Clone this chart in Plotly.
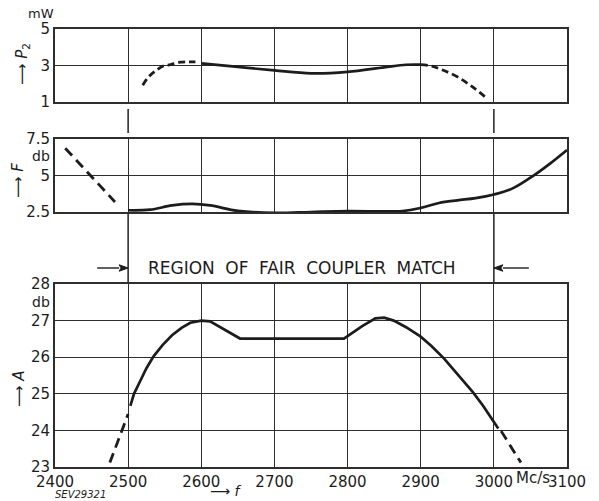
import plotly.graph_objects as go

# ---------------- data ----------------
freq_ticks = [2400, 2500, 2600, 2700, 2800, 2900, 3000, 3100]
freq_tick_labels = ["2400", "2500", "2600", "2700", "2800", "2900", "3000", "3100"]

# P2 (mW)
p2_f_dash_left = [2520, 2527, 2536, 2548, 2558, 2571, 2592]
p2_dash_left = [1.92, 2.33, 2.66, 2.97, 3.05, 3.18, 3.2]
p2_f_solid = [2600, 2650, 2700, 2750, 2800, 2850, 2880, 2900]
p2_solid = [3.12, 2.92, 2.73, 2.57, 2.65, 2.9, 3.04, 3.05]
p2_f_dash_right = [2900, 2915, 2930, 2950, 2970, 2990]
p2_dash_right = [3.05, 2.97, 2.75, 2.38, 1.85, 1.22]
p2_ticks = [1, 3, 5]

# F (db)
f_f_dash = [2414, 2482]
f_dash = [6.87, 3.19]
f_f_solid = [2500, 2530, 2560, 2588, 2612, 2650, 2700, 2750, 2800, 2875, 2900, 2925,
             2950, 2975, 3000, 3025, 3050, 3075, 3100]
f_solid = [2.62, 2.66, 2.95, 3.05, 2.95, 2.58, 2.44, 2.5, 2.56, 2.57, 2.78, 3.12,
           3.3, 3.45, 3.7, 4.1, 4.85, 5.75, 6.75]
f_ticks = [2.5, 5, 7.5]

# A (db)
a_f_dash_left = [2475, 2500]
a_dash_left = [23.12, 24.45]
a_f_solid = [2503, 2508, 2516, 2525, 2535, 2547, 2560, 2573, 2585, 2600, 2612, 2653,
             2795, 2820, 2838, 2850, 2863, 2880, 2900, 2915, 2932, 2950, 2971, 2985,
             3000, 3006]
a_solid = [24.67, 25.0, 25.33, 25.7, 26.03, 26.33, 26.6, 26.8, 26.94, 27.0, 26.98, 26.51,
           26.51, 26.85, 27.06, 27.08, 27.0, 26.82, 26.56, 26.3, 25.96, 25.55, 25.05, 24.68,
           24.25, 24.05]
a_f_dash_right = [3010, 3037]
a_dash_right = [23.98, 23.12]
a_ticks = [23, 24, 25, 26, 27, 28]

# ---------------- style ----------------
W, H = 599, 501
INK = "#1c1c1c"
GRID = "#2e2e2e"
FONT = "DejaVu Sans"


def px_y(p):
    return 1 - p / H


def px_x(p):
    return p / W


fig = go.Figure()

solid = dict(color=INK, width=2.7)
dash_short = dict(color=INK, width=2.8, dash="7px,4px")
dash_long = dict(color=INK, width=2.8, dash="10px,6px")

# top panel (x3,y3)
fig.add_trace(go.Scatter(x=p2_f_dash_left, y=p2_dash_left, mode="lines", line=dict(**dash_short, shape="spline"),
                         xaxis="x3", yaxis="y3"))
fig.add_trace(go.Scatter(x=p2_f_solid, y=p2_solid, mode="lines", line=dict(**solid, shape="spline"),
                         xaxis="x3", yaxis="y3"))
fig.add_trace(go.Scatter(x=p2_f_dash_right, y=p2_dash_right, mode="lines", line=dict(**dash_short, shape="spline"),
                         xaxis="x3", yaxis="y3"))
# middle panel (x2,y2)
fig.add_trace(go.Scatter(x=f_f_dash, y=f_dash, mode="lines", line=dash_long, xaxis="x2", yaxis="y2"))
fig.add_trace(go.Scatter(x=f_f_solid, y=f_solid, mode="lines", line=dict(**solid, shape="spline"),
                         xaxis="x2", yaxis="y2"))
# bottom panel (x,y)
fig.add_trace(go.Scatter(x=a_f_dash_left, y=a_dash_left, mode="lines", line=dash_long, xaxis="x", yaxis="y"))
fig.add_trace(go.Scatter(x=a_f_solid, y=a_solid, mode="lines", line=solid, xaxis="x", yaxis="y"))
fig.add_trace(go.Scatter(x=a_f_dash_right, y=a_dash_right, mode="lines", line=dash_long, xaxis="x", yaxis="y"))

xdom = [px_x(55), px_x(567)]
common_x = dict(range=[2400, 3100], domain=xdom, tickvals=freq_ticks, ticktext=freq_tick_labels,
                showgrid=True, gridcolor=GRID, gridwidth=1.4, showline=True, linecolor=GRID,
                linewidth=2, mirror=True, zeroline=False, ticks="", fixedrange=True, automargin=False)
common_y = dict(showgrid=True, gridcolor=GRID, gridwidth=1.4, showline=True, linecolor=GRID,
                linewidth=2, mirror=True, zeroline=False, ticks="", fixedrange=True, automargin=False)

fig.update_layout(
    template="none",
    width=W, height=H, autosize=False,
    margin=dict(l=0, r=0, t=0, b=0, pad=0),
    paper_bgcolor="white", plot_bgcolor="white",
    showlegend=False,
    font=dict(family=FONT, size=15, color=INK),
    xaxis=dict(**common_x, anchor="y", showticklabels=True),
    xaxis2=dict(**common_x, anchor="y2", showticklabels=False),
    xaxis3=dict(**common_x, anchor="y3", showticklabels=False),
    yaxis=dict(**common_y, range=[23, 28], tickvals=a_ticks, domain=[px_y(467), px_y(284)], anchor="x"),
    yaxis2=dict(**common_y, range=[2.5, 7.5], tickvals=f_ticks, ticktext=["2.5", "5", "7.5"],
                domain=[px_y(212), px_y(139)], anchor="x2"),
    yaxis3=dict(**common_y, range=[1, 5], tickvals=p2_ticks, domain=[px_y(102), px_y(29)], anchor="x3"),
)

# extension lines of the 2500 and 3000 grid lines
for fx in (2500, 3000):
    fig.add_shape(type="line", xref="x", yref="paper", x0=fx, x1=fx, y0=px_y(133), y1=px_y(109),
                  line=dict(color=GRID, width=1.6))
    fig.add_shape(type="line", xref="x", yref="paper", x0=fx, x1=fx, y0=px_y(284), y1=px_y(212),
                  line=dict(color=GRID, width=1.6))

# region arrows (shaft + head)
MHZ_PER_PX = 700 / 512
ay_px = 268
for head, tail_px in ((2500, -31), (3000, 35)):
    tail = head + tail_px * MHZ_PER_PX
    sgn = 1 if tail_px < 0 else -1
    back = head - sgn * 9 * MHZ_PER_PX
    fig.add_shape(type="line", xref="x", yref="paper", x0=tail, x1=back, y0=px_y(ay_px), y1=px_y(ay_px),
                  line=dict(color=INK, width=1.4))
    fig.add_shape(type="path", xref="x", yref="paper",
                  path=f"M {head},{px_y(ay_px)} L {back},{px_y(ay_px - 3.2)} L {back + sgn * 2 * MHZ_PER_PX},{px_y(ay_px)} "
                       f"L {back},{px_y(ay_px + 3.2)} Z",
                  fillcolor=INK, line=dict(color=INK, width=1))


# labels
def label(text, x, y, size=14, angle=0, italic=False):
    fig.add_annotation(x=px_x(x), y=px_y(y), xref="paper", yref="paper", text=text, showarrow=False,
                       xanchor="center", yanchor="middle", textangle=angle,
                       font=dict(size=size, family=FONT, color=INK,
                                 style="italic" if italic else "normal"))


label("REGION\u2009\u200a OF\u2009\u200a FAIR\u2009\u200a COUPLER\u2009\u200a MATCH", 302, 268, size=17)
label("mW", 41, 13, size=13)
label("db", 41, 156)
label("db", 41, 302)
label("Mc/s", 533, 478, size=15)
label("\u27f6 <i>P</i><sub>2</sub>", 22, 64, size=15, angle=-90)
label("\u27f6 <i>F</i>", 18, 181, size=15, angle=-90)
label("\u27f6 <i>A</i>", 19, 389, size=15, angle=-90)
label("\u27f6 <i>f</i>", 226, 491, size=14)
label("SEV29321", 80, 494, size=10, italic=True)

fig.write_html("out.html")
